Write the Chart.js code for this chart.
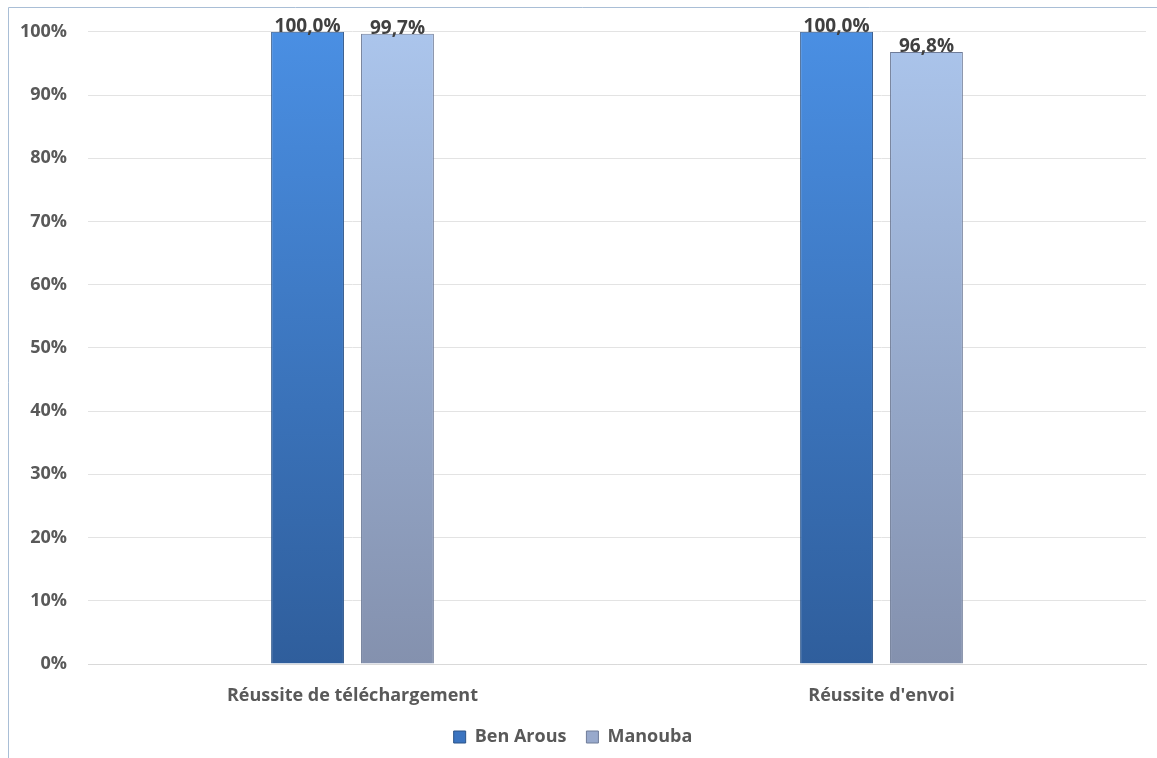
<!DOCTYPE html>
<html>
<head>
<meta charset="utf-8">
<script src="https://cdn.jsdelivr.net/npm/chart.js@4"></script>
<style>
  html, body { margin: 0; padding: 0; background: #fff; }
  #wrap { width: 1157px; height: 758px; }
</style>
</head>
<body>
<div id="wrap"><canvas id="chartCanvas" width="1157" height="758"></canvas></div>
<script>
// data
const categories = ['Réussite de téléchargement', "Réussite d'envoi"];
const benArous = [100.0, 100.0];
const manouba = [99.7, 96.8];
const yTicks = [0, 10, 20, 30, 40, 50, 60, 70, 80, 90, 100];

const FONT = '"Open Sans", Lato, sans-serif';

function vGradient(top, bottom) {
  return (ctx) => {
    const area = ctx.chart.chartArea;
    if (!area) return bottom;
    const g = ctx.chart.ctx.createLinearGradient(0, area.top, 0, area.bottom);
    g.addColorStop(0, top);
    g.addColorStop(1, bottom);
    return g;
  };
}

// frame lines like the original chart box
const framePlugin = {
  id: 'frame',
  beforeDraw(chart) {
    const c = chart.ctx;
    c.save();
    c.strokeStyle = '#a9bed6';
    c.lineWidth = 1;
    c.beginPath();
    c.moveTo(8.5, 758);
    c.lineTo(8.5, 7.5);
    c.lineTo(1157, 7.5);
    c.stroke();
    c.restore();
  }
};

// value labels on top of bars
const valueLabels = {
  id: 'valueLabels',
  afterDatasetsDraw(chart) {
    const c = chart.ctx;
    c.save();
    c.font = 'bold 19px ' + FONT;
    c.fillStyle = '#404040';
    c.textAlign = 'center';
    c.textBaseline = 'bottom';
    chart.data.datasets.forEach((ds, i) => {
      chart.getDatasetMeta(i).data.forEach((bar, j) => {
        const txt = ds.data[j].toFixed(1).replace('.', ',') + '%';
        c.fillText(txt, bar.x, bar.y + 4);
      });
    });
    c.restore();
  }
};

const ctx = document.getElementById('chartCanvas').getContext('2d');
new Chart(ctx, {
  type: 'bar',
  data: {
    labels: categories,
    datasets: [
      {
        label: 'Ben Arous',
        data: benArous,
        backgroundColor: vGradient('#4a8fe3', '#2f5e9c'),
        borderColor: '#2b5388',
        borderWidth: 1
      },
      {
        label: 'Manouba',
        data: manouba,
        backgroundColor: vGradient('#abc5ec', '#8491ae'),
        borderColor: '#6f7c98',
        borderWidth: 1
      }
    ]
  },
  options: {
    responsive: false,
    animation: false,
    categoryPercentage: 0.34,
    barPercentage: 0.81,
    layout: { padding: { top: 19, right: 11, bottom: 2, left: 0 } },
    plugins: {
      legend: {
        position: 'bottom',
        labels: {
          font: { family: FONT, size: 18, weight: 'bold' },
          color: '#595959',
          boxWidth: 12,
          boxHeight: 12,
          padding: 20,
          generateLabels(chart) {
            const fills = ['#3b74c0', '#98a9cc'];
            const edges = ['#2b5388', '#6f7c98'];
            return chart.data.datasets.map((ds, i) => ({
              text: ds.label,
              fillStyle: fills[i],
              strokeStyle: edges[i],
              lineWidth: 1,
              fontColor: '#595959',
              datasetIndex: i,
              hidden: false
            }));
          }
        }
      },
      tooltip: { enabled: false }
    },
    scales: {
      x: {
        afterFit(scale) { scale.height = 44; },
        grid: { display: false },
        border: { display: true, color: '#d9d9d9' },
        ticks: {
          font: { family: FONT, size: 18, weight: 'bold' },
          color: '#595959',
          padding: 13
        }
      },
      y: {
        min: yTicks[0],
        max: yTicks[yTicks.length - 1],
        afterFit(scale) { scale.width = 88; },
        afterBuildTicks(scale) { scale.ticks = yTicks.map(v => ({ value: v })); },
        grid: { color: '#e3e3e3', drawTicks: false },
        border: { display: false },
        ticks: {
          font: { family: FONT, size: 18, weight: 'bold' },
          color: '#595959',
          padding: 21,
          callback: v => v + '%'
        }
      }
    }
  },
  plugins: [framePlugin, valueLabels]
});
</script>
</body>
</html>
